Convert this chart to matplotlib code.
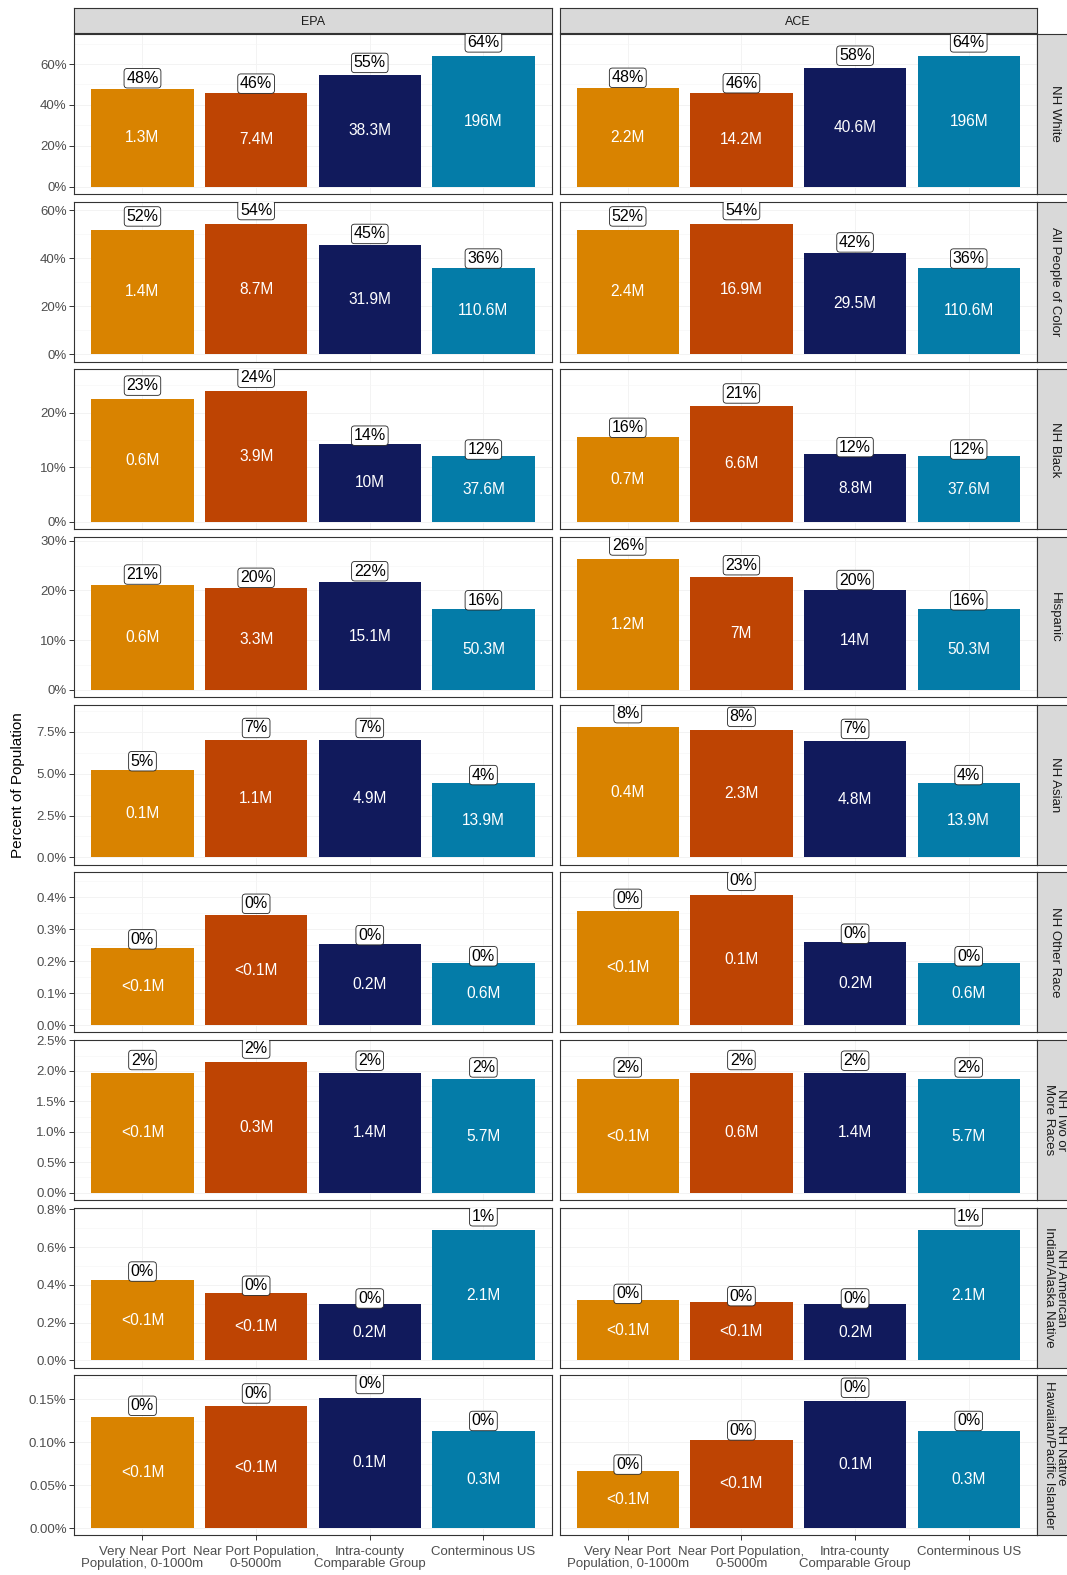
import numpy as np
import matplotlib.pyplot as plt
from matplotlib.ticker import FixedLocator, FuncFormatter

plt.rcParams['font.family'] = ['Liberation Sans', 'DejaVu Sans']

groups = ["Very Near Port\nPopulation, 0-1000m", "Near Port Population,\n0-5000m",
          "Intra-county\nComparable Group", "Conterminous US"]
sources = ["EPA", "ACE"]
races = ["NH White", "All People of Color", "NH Black", "Hispanic", "NH Asian",
         "NH Other Race", "NH Two or\nMore Races", "NH American\nIndian/Alaska Native",
         "NH Native\nHawaiian/Pacific Islander"]
colors = ["#D98300", "#BE4403", "#111A5C", "#047CA8"]

# percent of population, one list per race
epa_pct = [[48.0, 45.6, 54.8, 63.9],
           [52.0, 54.4, 45.4, 36.1],
           [22.6, 23.9, 14.3, 12.0],
           [21.0, 20.4, 21.6, 16.3],
           [5.2, 7.0, 7.0, 4.45],
           [0.243, 0.344, 0.255, 0.195],
           [1.97, 2.14, 1.96, 1.86],
           [0.426, 0.358, 0.297, 0.691],
           [0.129, 0.142, 0.152, 0.113]]
ace_pct = [[48.2, 45.8, 58.0, 63.9],
           [52.0, 54.4, 42.2, 36.1],
           [15.6, 21.3, 12.4, 12.0],
           [26.3, 22.7, 20.0, 16.3],
           [7.8, 7.6, 6.95, 4.45],
           [0.358, 0.409, 0.259, 0.195],
           [1.86, 1.97, 1.96, 1.86],
           [0.319, 0.308, 0.297, 0.691],
           [0.067, 0.103, 0.148, 0.113]]

# population counts
epa_count = [["1.3M", "7.4M", "38.3M", "196M"],
             ["1.4M", "8.7M", "31.9M", "110.6M"],
             ["0.6M", "3.9M", "10M", "37.6M"],
             ["0.6M", "3.3M", "15.1M", "50.3M"],
             ["0.1M", "1.1M", "4.9M", "13.9M"],
             ["<0.1M", "<0.1M", "0.2M", "0.6M"],
             ["<0.1M", "0.3M", "1.4M", "5.7M"],
             ["<0.1M", "<0.1M", "0.2M", "2.1M"],
             ["<0.1M", "<0.1M", "0.1M", "0.3M"]]
ace_count = [["2.2M", "14.2M", "40.6M", "196M"],
             ["2.4M", "16.9M", "29.5M", "110.6M"],
             ["0.7M", "6.6M", "8.8M", "37.6M"],
             ["1.2M", "7M", "14M", "50.3M"],
             ["0.4M", "2.3M", "4.8M", "13.9M"],
             ["<0.1M", "0.1M", "0.2M", "0.6M"],
             ["<0.1M", "0.6M", "1.4M", "5.7M"],
             ["<0.1M", "<0.1M", "0.2M", "2.1M"],
             ["<0.1M", "<0.1M", "0.1M", "0.3M"]]

row_ticks = [[0, 20, 40, 60], [0, 20, 40, 60], [0, 10, 20], [0, 10, 20, 30],
             [0, 2.5, 5, 7.5], [0, 0.1, 0.2, 0.3, 0.4], [0, 0.5, 1, 1.5, 2, 2.5],
             [0, 0.2, 0.4, 0.6, 0.8], [0, 0.05, 0.1, 0.15]]
row_decimals = [0, 0, 0, 0, 1, 1, 1, 1, 2]

W, H = 1067, 1575
fig = plt.figure(figsize=(W / 100, H / 100), dpi=100)

def px_axes(x0, y0, w, h):
    return fig.add_axes([x0 / W, 1 - (y0 + h) / H, w / W, h / H])

col_x = [74.3, 559.6]
col_w = 477.3
top0 = 33.8
ph = 160.0
gap = 7.7
edge = "#333333"

for c, src in enumerate(sources):
    sax = px_axes(col_x[c], 7.6, col_w, 25.6)
    sax.set_xticks([]); sax.set_yticks([])
    sax.set_facecolor("#D9D9D9")
    for sp in sax.spines.values():
        sp.set_color(edge); sp.set_linewidth(0.8)
    sax.text(0.5, 0.45, src, ha="center", va="center", fontsize=9, color="#1A1A1A",
             transform=sax.transAxes)

x = np.arange(1, 5)
for r, race in enumerate(races):
    y0 = top0 + r * (ph + gap)
    both = epa_pct[r] + ace_pct[r]
    lab_max = max(both) * 1.115
    ylim = (-0.05 * lab_max, 1.05 * lab_max)
    for c, (pct, cnt) in enumerate([(epa_pct[r], epa_count[r]), (ace_pct[r], ace_count[r])]):
        ax = px_axes(col_x[c], y0, col_w, ph)
        ax.set_xlim(0.4, 4.6)
        ax.set_ylim(*ylim)
        ax.yaxis.set_major_locator(FixedLocator(row_ticks[r]))
        ax.yaxis.set_minor_locator(FixedLocator([t + (row_ticks[r][1] - row_ticks[r][0]) / 2
                                                 for t in row_ticks[r]]))
        ax.set_xticks(x)
        ax.grid(True, which="major", color="#F3F3F3", linewidth=0.7)
        ax.grid(True, which="minor", axis="y", color="#F6F6F6", linewidth=0.4)
        ax.set_axisbelow(True)
        ax.bar(x, pct, width=0.9, color=colors)
        for xi, v, n in zip(x, pct, cnt):
            ax.text(xi, v * 1.105, f"{v:.0f}%", ha="center", va="center", fontsize=11.5,
                    color="black", clip_on=True,
                    bbox=dict(boxstyle="round,pad=0.14,rounding_size=0.2", fc="white",
                              ec="#222222", lw=0.6))
            ax.text(xi, v / 2, n, ha="center", va="center", fontsize=11.2, color="white")
        for sp in ax.spines.values():
            sp.set_color(edge); sp.set_linewidth(0.8)
        ax.tick_params(axis="both", which="major", length=3.5, width=0.7, color=edge,
                       labelsize=9.5, labelcolor="#4D4D4D", pad=2)
        ax.tick_params(which="minor", length=0)
        if c == 0:
            d = row_decimals[r]
            ax.yaxis.set_major_formatter(FuncFormatter(lambda t, p, d=d: f"{t:.{d}f}%"))
        else:
            ax.tick_params(axis="y", labelleft=False, length=0)
        if r == len(races) - 1:
            ax.set_xticklabels(groups, linespacing=1.0)
            ax.tick_params(axis="x", pad=4)
        else:
            ax.tick_params(axis="x", labelbottom=False, length=0)

    # row strip on the right
    rax = px_axes(1037.0, y0, 38.0, ph)
    rax.set_xticks([]); rax.set_yticks([])
    rax.set_facecolor("#D9D9D9")
    for sp in rax.spines.values():
        sp.set_color(edge); sp.set_linewidth(0.8)
    rax.text(0.47, 0.5, race, ha="center", va="center", rotation=270, fontsize=9.5,
             color="#1A1A1A", linespacing=1.0, transform=rax.transAxes)

fig.text(18 / W, 1 - 785 / H, "Percent of Population", rotation=90, ha="center",
         va="center", fontsize=11, color="black")

fig.savefig("out.png", dpi=100)
